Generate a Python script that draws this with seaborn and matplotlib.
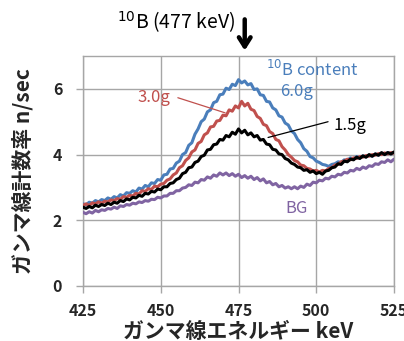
import numpy as np
import pandas as pd
import matplotlib
matplotlib.use("Agg")
import matplotlib.pyplot as plt
import seaborn as sns

energy = list(range(425, 526))

b6_0 = [2.50, 2.47, 2.55, 2.52, 2.60, 2.56, 2.63, 2.60, 2.68, 2.64,
        2.72, 2.68, 2.78, 2.74, 2.84, 2.82, 2.90, 2.86, 2.98, 2.95,
        3.06, 3.02, 3.14, 3.12, 3.24, 3.22, 3.38, 3.40, 3.56, 3.58,
        3.74, 3.80, 4.00, 4.06, 4.28, 4.36, 4.62, 4.78, 5.00, 5.08,
        5.30, 5.36, 5.58, 5.62, 5.82, 5.84, 6.02, 5.98, 6.14, 6.10,
        6.28, 6.18, 6.24, 6.12, 6.16, 5.98, 6.00, 5.82, 5.80, 5.62,
        5.60, 5.42, 5.36, 5.18, 5.14, 4.96, 4.90, 4.72, 4.64, 4.46,
        4.36, 4.18, 4.10, 3.94, 3.90, 3.80, 3.76, 3.70, 3.68, 3.64,
        3.70, 3.72, 3.78, 3.76, 3.84, 3.82, 3.90, 3.86, 3.94, 3.90,
        3.96, 3.93, 3.98, 3.95, 4.02, 3.98, 4.04, 4.00, 4.06, 4.02,
        4.06]

b3_0 = [2.46, 2.50, 2.45, 2.53, 2.50, 2.56, 2.52, 2.58, 2.56, 2.62,
        2.60, 2.66, 2.64, 2.72, 2.70, 2.76, 2.74, 2.82, 2.80, 2.90,
        2.88, 2.96, 2.94, 3.04, 3.02, 3.10, 3.12, 3.22, 3.26, 3.38,
        3.44, 3.60, 3.66, 3.82, 3.90, 4.08, 4.14, 4.34, 4.40, 4.60,
        4.66, 4.84, 4.86, 5.02, 5.04, 5.20, 5.18, 5.36, 5.32, 5.48,
        5.42, 5.62, 5.48, 5.56, 5.38, 5.34, 5.16, 5.10, 4.92, 4.88,
        4.70, 4.64, 4.46, 4.42, 4.24, 4.14, 4.00, 3.92, 3.82, 3.78,
        3.68, 3.66, 3.58, 3.56, 3.50, 3.52, 3.47, 3.52, 3.50, 3.58,
        3.60, 3.68, 3.70, 3.78, 3.80, 3.86, 3.84, 3.90, 3.88, 3.94,
        3.92, 3.97, 3.95, 4.00, 3.98, 4.03, 4.00, 4.05, 4.02, 4.06,
        4.04]

b1_5 = [2.40, 2.36, 2.42, 2.38, 2.46, 2.42, 2.48, 2.45, 2.52, 2.48,
        2.55, 2.52, 2.60, 2.57, 2.65, 2.62, 2.70, 2.68, 2.76, 2.73,
        2.82, 2.80, 2.88, 2.86, 2.95, 2.93, 3.02, 3.02, 3.12, 3.14,
        3.24, 3.28, 3.42, 3.46, 3.60, 3.62, 3.76, 3.80, 3.94, 3.98,
        4.14, 4.16, 4.30, 4.32, 4.46, 4.44, 4.58, 4.54, 4.68, 4.62,
        4.78, 4.66, 4.74, 4.60, 4.66, 4.54, 4.58, 4.44, 4.46, 4.32,
        4.30, 4.16, 4.14, 4.02, 4.00, 3.88, 3.84, 3.74, 3.70, 3.62,
        3.60, 3.52, 3.54, 3.46, 3.50, 3.42, 3.46, 3.40, 3.50, 3.52,
        3.60, 3.62, 3.72, 3.70, 3.80, 3.78, 3.86, 3.84, 3.92, 3.88,
        3.96, 3.92, 4.00, 3.95, 4.02, 3.98, 4.06, 4.00, 4.06, 4.02,
        4.08]

bg = [2.24, 2.20, 2.26, 2.22, 2.30, 2.26, 2.32, 2.30, 2.36, 2.34,
      2.40, 2.36, 2.44, 2.42, 2.48, 2.46, 2.52, 2.50, 2.56, 2.54,
      2.60, 2.58, 2.64, 2.63, 2.70, 2.68, 2.74, 2.74, 2.82, 2.82,
      2.90, 2.90, 2.98, 3.00, 3.08, 3.06, 3.16, 3.14, 3.24, 3.22,
      3.32, 3.28, 3.38, 3.34, 3.44, 3.38, 3.44, 3.36, 3.42, 3.34,
      3.40, 3.30, 3.36, 3.28, 3.34, 3.24, 3.30, 3.20, 3.26, 3.14,
      3.18, 3.08, 3.12, 3.02, 3.06, 2.98, 3.02, 2.96, 3.02, 2.96,
      3.04, 3.00, 3.10, 3.06, 3.16, 3.14, 3.22, 3.20, 3.28, 3.26,
      3.34, 3.32, 3.40, 3.38, 3.46, 3.44, 3.52, 3.50, 3.58, 3.54,
      3.62, 3.58, 3.66, 3.64, 3.72, 3.70, 3.78, 3.76, 3.84, 3.78,
      3.86]

x_ticks = [425, 450, 475, 500, 525]
y_ticks = [0, 2, 4, 6]

sns.set_theme(style="white")
plt.rcParams['font.family'] = ['Noto Sans CJK JP', 'DejaVu Sans']

fig = plt.figure(figsize=(4.04, 3.41), dpi=100)
ax = fig.add_axes([83/404, 1-286/341, (394-83)/404, (286-56)/341])

grid_c = '#a6a6a6'
series = [(bg, '#8064A2'), (b6_0, '#4A7EBB'), (b3_0, '#C0504D'), (b1_5, '#000000')]
for vals, col in series:
    df = pd.DataFrame({'E': energy, 'v': vals})
    sns.lineplot(data=df, x='E', y='v', color=col, lw=2.2, ax=ax, zorder=3)

ax.set_xlim(425, 525)
ax.set_ylim(0, 7)
ax.set_xticks(x_ticks)
ax.set_yticks(y_ticks)
ax.grid(True, color=grid_c, lw=1.0)
for s in ax.spines.values():
    s.set_color(grid_c)
    s.set_linewidth(1.0)
ax.tick_params(axis='both', direction='out', length=5, width=1.0, color=grid_c,
               labelsize=11.5, bottom=True, left=True)
ax.tick_params(axis='x', pad=7)
ax.tick_params(axis='y', pad=10)
for lab in ax.get_xticklabels() + ax.get_yticklabels():
    lab.set_fontweight('bold')

ax.set_xlabel('ガンマ線エネルギー keV', fontsize=15, fontweight='bold', labelpad=2)
ax.set_ylabel('ガンマ線計数率 n/sec', fontsize=15, fontweight='bold', labelpad=14)

# annotations
ax.text(474, 8.03, '$^{10}$B (477 keV)', fontsize=14, ha='right', va='center',
        color='black', clip_on=False)
ax.annotate('', xy=(477, 7.08), xytext=(477, 8.2), annotation_clip=False,
            arrowprops=dict(arrowstyle='->,head_width=0.35,head_length=0.55',
                            color='black', lw=3.2))
ax.text(483.8, 6.58, '$^{10}$B content', fontsize=12, color='#4A7EBB', ha='left', va='center')
ax.text(488.3, 5.91, '6.0g', fontsize=12, color='#4A7EBB', ha='left', va='center')
ax.text(442.4, 5.73, '3.0g', fontsize=12, color='#C0504D', ha='left', va='center')
ax.plot([455.5, 470.7], [5.73, 5.27], color='#C0504D', lw=0.9, zorder=4)
ax.text(505.4, 4.88, '1.5g', fontsize=12, color='black', ha='left', va='center')
ax.plot([503.8, 484.5], [5.0, 4.52], color='black', lw=0.9, zorder=4)
ax.text(490, 2.36, 'BG', fontsize=12, color='#8064A2', ha='left', va='center')

fig.savefig('out.png', dpi=100)
